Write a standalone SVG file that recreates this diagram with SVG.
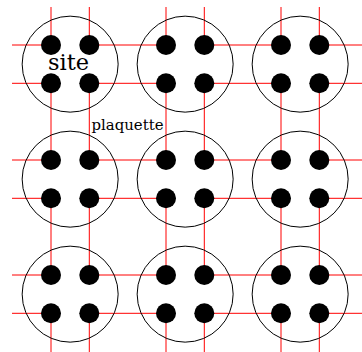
<svg xmlns="http://www.w3.org/2000/svg" width="362" height="352" viewBox="0 0 362 352">
<style>
.bond{stroke:#ff0000;stroke-width:1;fill:none}
.site{fill:none;stroke:#000;stroke-width:1}
.dot{fill:#000}
.lbl{font-family:"DejaVu Serif","Liberation Serif",serif;fill:#000}
</style>
<rect width="362" height="352" fill="#fff"/>
<g id="connectors">
<path class="bond" d="M12,45H51M89.3,45H166M204.3,45H281M319.3,45H362
M12,83.3H51M89.3,83.3H166M204.3,83.3H281M319.3,83.3H362
M12,160H51M89.3,160H166M204.3,160H281M319.3,160H362
M12,198.3H51M89.3,198.3H166M204.3,198.3H281M319.3,198.3H362
M12,275H51M89.3,275H166M204.3,275H281M319.3,275H362
M12,313.3H51M89.3,313.3H166M204.3,313.3H281M319.3,313.3H362"/>
<path class="bond" d="M51,7V45M51,83.3V160M51,198.3V275M51,313.3V352
M89.3,7V45M89.3,83.3V160M89.3,198.3V275M89.3,313.3V352
M166,7V45M166,83.3V160M166,198.3V275M166,313.3V352
M204.3,7V45M204.3,83.3V160M204.3,198.3V275M204.3,313.3V352
M281,7V45M281,83.3V160M281,198.3V275M281,313.3V352
M319.3,7V45M319.3,83.3V160M319.3,198.3V275M319.3,313.3V352"/>
</g>
<defs>
<g id="siteShape">
<circle class="site" cx="0" cy="0" r="48"/>
<circle class="dot" cx="-19.15" cy="-19.15" r="10"/>
<circle class="dot" cx="19.15" cy="-19.15" r="10"/>
<circle class="dot" cx="-19.15" cy="19.15" r="10"/>
<circle class="dot" cx="19.15" cy="19.15" r="10"/>
</g>
</defs>
<g id="site-1-1"><use href="#siteShape" x="70.15" y="64.15"/></g>
<g id="site-1-2"><use href="#siteShape" x="185.15" y="64.15"/></g>
<g id="site-1-3"><use href="#siteShape" x="300.15" y="64.15"/></g>
<g id="site-2-1"><use href="#siteShape" x="70.15" y="179.15"/></g>
<g id="site-2-2"><use href="#siteShape" x="185.15" y="179.15"/></g>
<g id="site-2-3"><use href="#siteShape" x="300.15" y="179.15"/></g>
<g id="site-3-1"><use href="#siteShape" x="70.15" y="294.15"/></g>
<g id="site-3-2"><use href="#siteShape" x="185.15" y="294.15"/></g>
<g id="site-3-3"><use href="#siteShape" x="300.15" y="294.15"/></g>
<g id="labels">
<text class="lbl" x="48" y="70" font-size="21.5" textLength="41" lengthAdjust="spacingAndGlyphs">site</text>
<text class="lbl" x="91.5" y="130" font-size="15" textLength="72" lengthAdjust="spacingAndGlyphs">plaquette</text>
</g>
</svg>
